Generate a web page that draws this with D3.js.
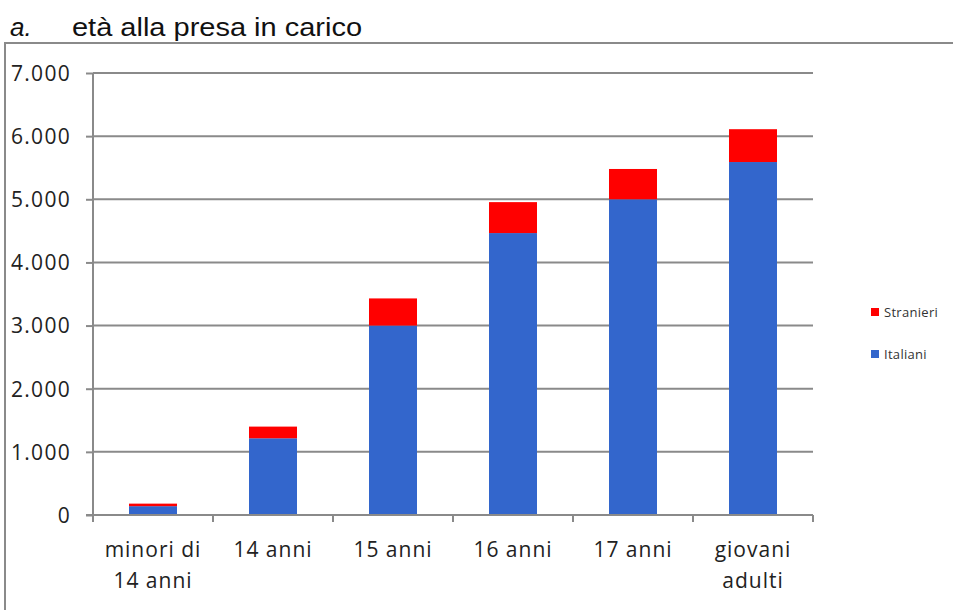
<!DOCTYPE html>
<meta charset="utf-8">
<style>
  body { margin: 0; background: #fff; }
  svg { display: block; }
  .tick text { font-family: "Open Sans", sans-serif; fill: #222; letter-spacing: 1.3px; }
</style>
<body>
<svg width="953" height="610"></svg>
<script src="https://cdn.jsdelivr.net/npm/d3@7"></script>
<script>

var categories = ["minori di|14 anni", "14 anni", "15 anni", "16 anni", "17 anni", "giovani|adulti"];
var italiani  = [140, 1215, 3000, 4465, 5000, 5590];
var stranieri = [40, 185, 430, 490, 480, 520];
var yTicks = [0, 1000, 2000, 3000, 4000, 5000, 6000, 7000];
var seriesNames = ["Italiani", "Stranieri"];
var seriesColors = ["#3366cc", "#ff0000"];

var svg = d3.select("svg");
var grey = "#8a8a8a";

// frame round the chart
svg.append("path")
    .attr("d", "M5,610 V43 H953")
    .attr("fill", "none")
    .attr("stroke", grey)
    .attr("stroke-width", 2);

// title
var title = svg.append("text")
    .attr("x", 10)
    .attr("y", 36)
    .attr("font-family", "Liberation Sans, Arial, sans-serif")
    .attr("font-size", 26)
    .attr("fill", "#111");
title.append("tspan").attr("font-style", "italic").text("a.");
title.append("tspan")
    .attr("x", 72)
    .attr("textLength", 290)
    .attr("lengthAdjust", "spacingAndGlyphs")
    .text("età alla presa in carico");

var x = d3.scaleBand()
    .domain(categories)
    .range([93, 813])
    .paddingInner(0.6)
    .paddingOuter(0.3);

var y = d3.scaleLinear()
    .domain([0, 7000])
    .range([515, 73]);

var fmt = function(d) { return d3.format(",")(d).replace(/,/g, "."); };

// gridlines
svg.append("g")
    .selectAll("line")
    .data(yTicks.filter(function(d) { return d > 0; }))
    .enter().append("line")
    .attr("x1", 93)
    .attr("x2", 813)
    .attr("y1", function(d) { return y(d); })
    .attr("y2", function(d) { return y(d); })
    .attr("stroke", grey)
    .attr("stroke-width", 2);

// stacked bars
var rows = categories.map(function(c, i) {
    return { cat: c, Italiani: italiani[i], Stranieri: stranieri[i] };
});
var stacked = d3.stack().keys(seriesNames)(rows);

svg.append("g")
    .selectAll("g")
    .data(stacked)
    .enter().append("g")
    .attr("fill", function(d, i) { return seriesColors[i]; })
    .selectAll("rect")
    .data(function(d) { return d; })
    .enter().append("rect")
    .attr("x", function(d) { return x(d.data.cat); })
    .attr("width", x.bandwidth())
    .attr("y", function(d) { return y(d[1]); })
    .attr("height", function(d) { return y(d[0]) - y(d[1]); });

// y axis
var yAxis = svg.append("g")
    .attr("transform", "translate(93,0)")
    .call(d3.axisLeft(y).tickValues(yTicks).tickFormat(fmt).tickSize(7).tickPadding(15));
yAxis.selectAll("path, line").attr("stroke", grey).attr("stroke-width", 2);
yAxis.select(".domain").attr("d", "M0,515V73");
yAxis.selectAll(".tick text").attr("font-size", 21).attr("dy", "0.35em");

// x axis with ticks at the band edges
var edges = categories.map(function(c) { return x(c) - x.step() * x.paddingInner() / 2; });
edges.push(813);
var xAxis = svg.append("g");
xAxis.append("line")
    .attr("x1", 86).attr("x2", 813)
    .attr("y1", 515).attr("y2", 515)
    .attr("stroke", grey).attr("stroke-width", 2);
xAxis.selectAll(".edge")
    .data(edges)
    .enter().append("line")
    .attr("class", "edge")
    .attr("x1", function(d) { return d; })
    .attr("x2", function(d) { return d; })
    .attr("y1", 515).attr("y2", 522)
    .attr("stroke", grey).attr("stroke-width", 2);

var labels = xAxis.selectAll(".lbl")
    .data(categories)
    .enter().append("text")
    .attr("class", "lbl")
    .attr("text-anchor", "middle")
    .attr("font-family", "Open Sans, sans-serif")
    .attr("font-size", 21)
    .attr("letter-spacing", "1px")
    .attr("fill", "#222");
labels.selectAll("tspan")
    .data(function(d) { return d.split("|").map(function(t) { return { t: t, c: d }; }); })
    .enter().append("tspan")
    .attr("x", function(d) { return x(d.c) + x.bandwidth() / 2; })
    .attr("y", function(d, i) { return 557 + i * 31; })
    .text(function(d) { return d.t; });

// legend
var legend = svg.append("g");
var legendItems = [
    { name: "Stranieri", color: seriesColors[1], y: 308 },
    { name: "Italiani", color: seriesColors[0], y: 350 }
];
legend.selectAll("rect")
    .data(legendItems)
    .enter().append("rect")
    .attr("x", 871)
    .attr("y", function(d) { return d.y; })
    .attr("width", 8)
    .attr("height", 8)
    .attr("fill", function(d) { return d.color; });
legend.selectAll("text")
    .data(legendItems)
    .enter().append("text")
    .attr("x", 884)
    .attr("y", function(d) { return d.y + 9; })
    .attr("font-family", "Open Sans, sans-serif")
    .attr("font-size", 13)
    .attr("letter-spacing", "0.3px")
    .attr("fill", "#333")
    .text(function(d) { return d.name; });

</script>
</body>
